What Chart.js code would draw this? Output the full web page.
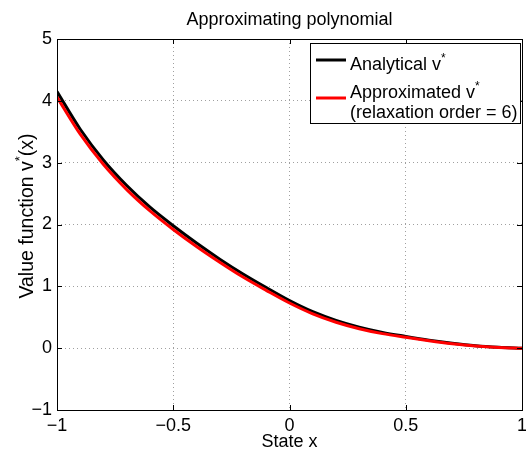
<!DOCTYPE html>
<html>
<head>
<meta charset="utf-8">
<script src="https://cdn.jsdelivr.net/npm/chart.js@4.4.1/dist/chart.umd.min.js"></script>
<style>
  html, body { margin: 0; padding: 0; background: #fff; }
  #wrap { width: 526px; height: 452px; }
</style>
</head>
<body>
<div id="wrap"><canvas id="polyChart"></canvas></div>
<script>
// state grid and value function readings
const states = [-1, -0.9, -0.8, -0.7, -0.6, -0.5, -0.4, -0.3, -0.2, -0.1, 0,
                0.1, 0.2, 0.3, 0.4, 0.5, 0.6, 0.7, 0.8, 0.9, 1];
const analytical = [4.15, 3.54, 3.04, 2.63, 2.28, 1.98, 1.70, 1.44, 1.20, 0.98, 0.77,
                    0.59, 0.45, 0.34, 0.255, 0.19, 0.13, 0.08, 0.04, 0.015, 0.00];
const approximated = [4.06, 3.46, 2.97, 2.565, 2.22, 1.92, 1.645, 1.39, 1.15, 0.935, 0.73,
                      0.555, 0.42, 0.315, 0.235, 0.175, 0.12, 0.072, 0.035, 0.012, 0.00];
const xTicks = [-1, -0.5, 0, 0.5, 1];
const yTicks = [-1, 0, 1, 2, 3, 4, 5];
const seriesNames = ['Analytical v*', 'Approximated v*'];
const seriesNote = '(relaxation order = 6)';

const FONT = '"Liberation Sans", Arial, Helvetica, sans-serif';

function minus(v) {
  return String(v).replace('-', '\u2212');
}

// text with a raised '*' (superscript)
function supText(ctx, text, x, y, size) {
  const parts = text.split('*');
  let cx = x;
  parts.forEach((p, i) => {
    ctx.font = size + 'px ' + FONT;
    ctx.fillText(p, cx, y);
    cx += ctx.measureText(p).width;
    if (i < parts.length - 1) {
      ctx.font = Math.round(size * 0.65) + 'px ' + FONT;
      ctx.fillText('*', cx, y - size * 0.45);
      cx += ctx.measureText('*').width;
    }
  });
  return cx - x;
}

function supWidth(ctx, text, size) {
  const parts = text.split('*');
  let w = 0;
  parts.forEach((p, i) => {
    ctx.font = size + 'px ' + FONT;
    w += ctx.measureText(p).width;
    if (i < parts.length - 1) {
      ctx.font = Math.round(size * 0.65) + 'px ' + FONT;
      w += ctx.measureText('*').width;
    }
  });
  return w;
}

const matlabLook = {
  id: 'matlabLook',
  afterDraw(chart) {
    const ctx = chart.ctx;
    const a = chart.chartArea;
    const xs = chart.scales.x, ys = chart.scales.y;
    ctx.save();
    ctx.fillStyle = '#000';
    ctx.strokeStyle = '#000';

    // box
    ctx.lineWidth = 1;
    ctx.strokeRect(Math.round(a.left) + 0.5, Math.round(a.top) + 0.5,
                   Math.round(a.right - a.left), Math.round(a.bottom - a.top));

    // inward ticks
    ctx.beginPath();
    xTicks.forEach(t => {
      const px = Math.round(xs.getPixelForValue(t)) + 0.5;
      ctx.moveTo(px, a.bottom); ctx.lineTo(px, a.bottom - 5);
      ctx.moveTo(px, a.top); ctx.lineTo(px, a.top + 5);
    });
    yTicks.forEach(t => {
      const py = Math.round(ys.getPixelForValue(t)) + 0.5;
      ctx.moveTo(a.left, py); ctx.lineTo(a.left + 5, py);
      ctx.moveTo(a.right, py); ctx.lineTo(a.right - 5, py);
    });
    ctx.stroke();

    // title
    ctx.textAlign = 'center';
    ctx.textBaseline = 'alphabetic';
    ctx.font = '18px ' + FONT;
    ctx.fillText('Approximating polynomial', (a.left + a.right) / 2, 25);

    // x label
    ctx.fillText('State x', (a.left + a.right) / 2, 447);

    // y label, rotated
    ctx.save();
    const yl = 'Value function v*(x)';
    const w = supWidth(ctx, yl, 19.5);
    ctx.translate(33, 216);
    ctx.rotate(-Math.PI / 2);
    ctx.textAlign = 'left';
    supText(ctx, yl, -w / 2, 0, 19.5);
    ctx.restore();

    // legend
    const lx = 310, ly = 43, lw = 210, lh = 80;
    ctx.fillStyle = '#fff';
    ctx.fillRect(lx, ly, lw, lh);
    ctx.strokeStyle = '#000';
    ctx.lineWidth = 1;
    ctx.strokeRect(lx + 0.5, ly + 0.5, lw, lh);
    const lineY = [60, 98];
    const textY = [70, 98];
    chart.data.datasets.forEach((ds, i) => {
      ctx.strokeStyle = ds.borderColor;
      ctx.lineWidth = 3;
      ctx.beginPath();
      ctx.moveTo(316, lineY[i]);
      ctx.lineTo(346, lineY[i]);
      ctx.stroke();
      ctx.fillStyle = '#000';
      ctx.textAlign = 'left';
      supText(ctx, seriesNames[i], 350, textY[i], 18);
    });
    ctx.font = '18px ' + FONT;
    ctx.fillText(seriesNote, 350, 118);

    ctx.restore();
  }
};

new Chart(document.getElementById('polyChart'), {
  type: 'line',
  data: {
    datasets: [{
      label: seriesNames[0],
      data: states.map((x, i) => ({ x: x, y: analytical[i] })),
      borderColor: '#000000',
      borderWidth: 3,
      pointRadius: 0,
      cubicInterpolationMode: 'monotone',
      order: 2
    }, {
      label: seriesNames[1],
      data: states.map((x, i) => ({ x: x, y: approximated[i] })),
      borderColor: '#ff0000',
      borderWidth: 3,
      pointRadius: 0,
      cubicInterpolationMode: 'monotone',
      order: 1
    }]
  },
  options: {
    responsive: true,
    maintainAspectRatio: false,
    animation: false,
    layout: { padding: { top: 39, right: 4, bottom: 0, left: 0 } },
    plugins: {
      legend: { display: false },
      title: { display: false },
      tooltip: { enabled: false }
    },
    scales: {
      x: {
        type: 'linear',
        min: -1,
        max: 1,
        afterBuildTicks: s => { s.ticks = xTicks.map(v => ({ value: v })); },
        afterFit: s => { s.height = 42; s.paddingLeft = 0; s.paddingRight = 0; },
        grid: { color: '#a0a0a0', lineWidth: 1, drawTicks: false },
        border: { display: false, dash: [1, 3] },
        ticks: {
          color: '#000',
          padding: 5,
          maxRotation: 0,
          font: { family: FONT, size: 18 },
          callback: v => minus(v)
        }
      },
      y: {
        min: -1,
        max: 5,
        afterBuildTicks: s => { s.ticks = yTicks.map(v => ({ value: v })); },
        afterFit: s => { s.width = 57; s.paddingTop = 0; s.paddingBottom = 0; },
        grid: { color: '#a0a0a0', lineWidth: 1, drawTicks: false },
        border: { display: false, dash: [1, 3] },
        ticks: {
          color: '#000',
          padding: 5,
          font: { family: FONT, size: 18 },
          callback: v => minus(v)
        }
      }
    }
  },
  plugins: [matlabLook]
});
</script>
</body>
</html>
